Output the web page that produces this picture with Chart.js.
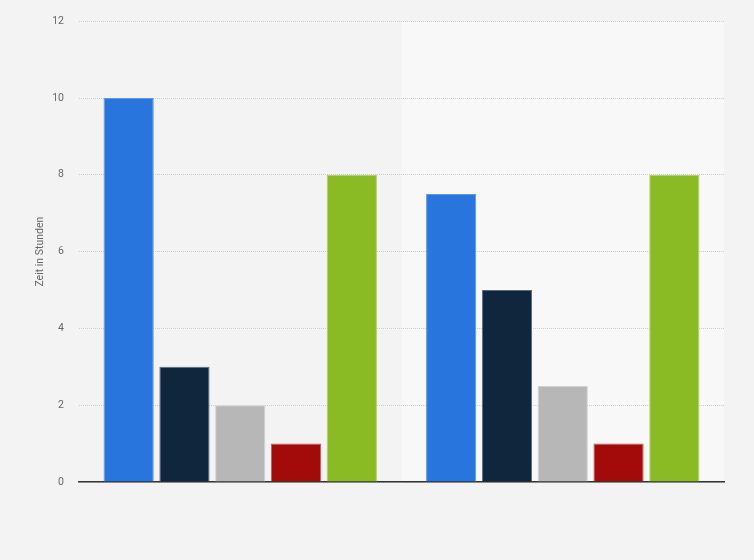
<!DOCTYPE html>
<html>
<head>
<meta charset="utf-8">
<script src="https://cdn.jsdelivr.net/npm/chart.js@4/dist/chart.umd.min.js"></script>
<style>
	html, body { margin: 0; padding: 0; background: #f3f3f3; }
	#wrap { width: 754px; height: 560px; }
</style>
</head>
<body>
<div id="wrap"><canvas id="myChart" width="754" height="560"></canvas></div>
<script>
const categories = ['Gruppe A', 'Gruppe B'];
const series_names = ['Serie 1', 'Serie 2', 'Serie 3', 'Serie 4', 'Serie 5'];
const series_1 = [10, 7.5];
const series_2 = [3, 5];
const series_3 = [2, 2.5];
const series_4 = [1, 1];
const series_5 = [8, 8];
const colors = ['#2876dd', '#10263d', '#b7b7b7', '#a30a0a', '#8aba24'];
const borders = ['#5d98e6', '#5a6b7e', '#d2d2d2', '#c85a5a', '#add068'];

// lighter band behind every second category
const bandPlugin = {
	id: 'band',
	beforeDraw: chart => {
		const { ctx, chartArea, scales } = chart;
		const x = scales.x;
		ctx.save();
		categories.forEach((c, i) => {
			if (i % 2 === 1) {
				const half = (x.getPixelForValue(1) - x.getPixelForValue(0)) / 2;
				const cx = x.getPixelForValue(i);
				ctx.fillStyle = '#f8f8f8';
				ctx.fillRect(cx - half, chartArea.top, half * 2, chartArea.bottom - chartArea.top);
			}
		});
		ctx.restore();
	}
};

const allSeries = [series_1, series_2, series_3, series_4, series_5];

const ctx = document.getElementById('myChart').getContext('2d');
let myChart = new Chart(ctx, {
	type: 'bar',
	data: {
		labels: categories,
		datasets: allSeries.map((d, i) => ({
			label: series_names[i],
			data: d,
			backgroundColor: colors[i],
			borderColor: borders[i],
			borderWidth: 1,
			barPercentage: 0.9,
			categoryPercentage: 0.865
		}))
	},
	options: {
		responsive: false,
		animation: false,
		layout: { padding: { top: 14, right: 30, bottom: 70, left: 34 } },
		plugins: {
			legend: { display: false },
			tooltip: { enabled: false }
		},
		scales: {
			x: {
				ticks: { display: false },
				grid: { display: false },
				border: { color: '#333333', width: 1.5 }
			},
			y: {
				min: 0,
				max: 12,
				afterFit: scale => { scale.width = 45; },
				ticks: {
					stepSize: 2,
					padding: 15,
					color: '#666666',
					font: { family: 'Roboto', size: 10.5 }
				},
				grid: { color: '#cccccc', drawTicks: false },
				border: { display: false, dash: [1, 1] },
				title: {
					display: true,
					text: 'Zeit in Stunden',
					color: '#666666',
					font: { family: 'Roboto', size: 10.5 },
					padding: { top: 0, bottom: 6 }
				}
			}
		}
	},
	plugins: [bandPlugin]
});
</script>
</body>
</html>
